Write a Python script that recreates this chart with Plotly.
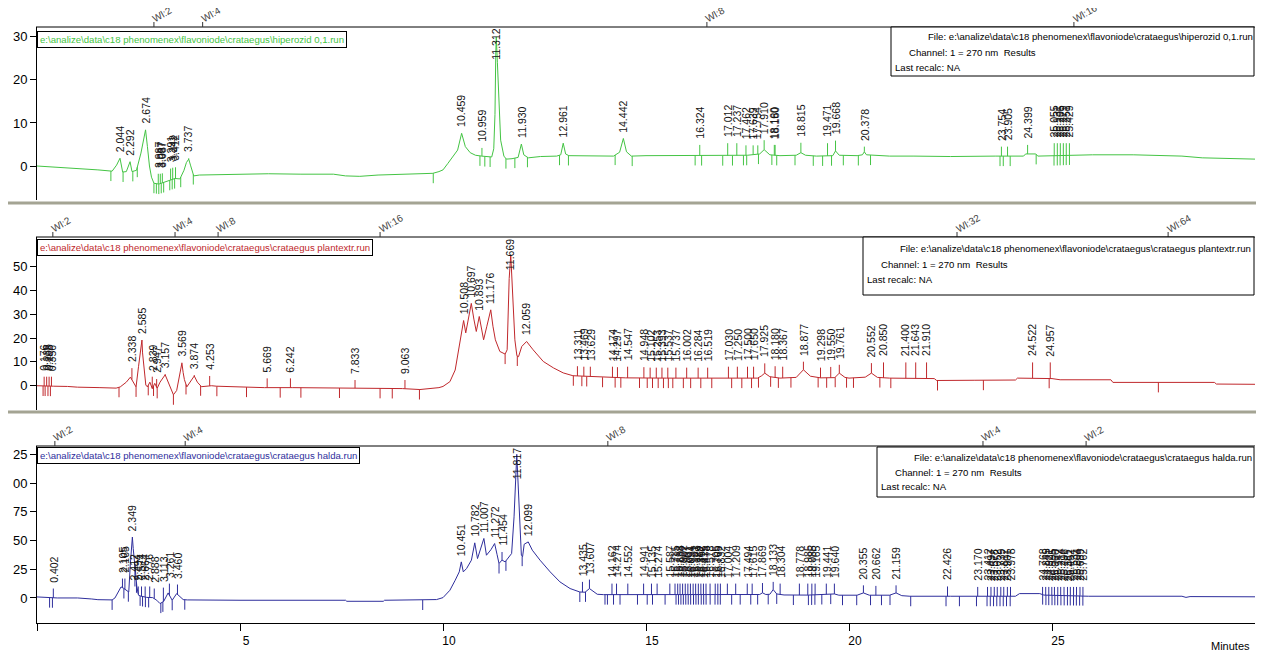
import numpy as np
import plotly.graph_objects as go

# ---------------- data ----------------
x_ticks = [0, 5, 10, 15, 20, 25]
x_tick_labels = ["", "5", "10", "15", "20", "25"]
x_title = "Minutes"
channel_text = "Channel: 1 = 270 nm  Results"
recalc_text = "Last recalc: NA"

# --- run 1 : hiperozid 0,1 (green) ---
hiperozid_path = r"e:\analize\data\c18 phenomenex\flavoniode\crataegus\hiperozid 0,1.run"
hiperozid_signal = [
    (0.0, 0.0), (0.8, -0.4), (1.5, -0.9), (1.85, -1.2), (1.96, 0.2), (2.044, 1.8), (2.11, -1.4),
    (2.2, -1.3), (2.292, 1.0), (2.34, -1.3), (2.45, -1.0), (2.56, 3.0), (2.674, 8.4), (2.72, 4.5),
    (2.77, 0.0), (2.82, -2.6), (2.88, -4.0), (3.0, -4.2), (3.1, -3.9), (3.2, -3.6), (3.3, -3.2),
    (3.4, -2.9), (3.52, -3.0), (3.62, -1.0), (3.68, 0.8), (3.737, 1.6), (3.78, 0.2), (3.86, -2.3),
    (4.0, -2.1), (5.0, -2.0), (5.7, -1.8), (6.5, -1.9), (7.3, -1.9), (7.6, -2.3), (7.95, -2.4),
    (8.4, -2.1), (8.8, -2.0), (9.4, -1.9), (9.75, -1.7), (9.9, -1.3), (10.0, -0.9), (10.12, 0.6),
    (10.25, 2.2), (10.36, 3.7), (10.459, 7.6), (10.55, 4.5), (10.67, 3.1), (10.8, 2.5), (10.95, 2.3),
    (11.1, 2.1), (11.2, 2.1), (11.25, 4.0), (11.28, 12.0), (11.3, 26.0), (11.312, 30.0), (11.34, 24.0),
    (11.37, 15.3), (11.42, 6.0), (11.5, 2.3), (11.56, 1.6), (11.7, 1.7), (11.85, 2.0), (11.93, 5.1),
    (11.99, 2.6), (12.1, 1.9), (12.4, 2.2), (12.8, 2.3), (12.9, 2.6), (12.961, 5.3), (13.02, 2.8),
    (13.1, 2.4), (13.6, 2.4), (14.2, 2.3), (14.35, 3.2), (14.442, 6.4), (14.52, 3.3), (14.64, 2.3),
    (15.0, 2.4), (15.5, 2.4), (16.0, 2.5), (16.5, 2.4), (17.0, 2.4), (17.5, 2.5), (17.8, 2.8),
    (17.91, 3.8), (18.05, 2.6), (18.3, 2.4), (18.7, 2.5), (18.815, 3.1), (18.93, 2.5), (19.2, 2.3),
    (19.6, 2.4), (19.668, 3.5), (19.76, 2.5), (20.2, 2.4), (20.33, 2.6), (20.378, 3.3), (20.43, 2.6),
    (20.6, 2.5), (21.0, 2.3), (21.6, 2.3), (22.5, 2.2), (23.6, 2.3), (24.3, 2.3), (24.35, 2.8),
    (24.6, 2.8), (24.65, 2.3), (25.0, 2.4), (25.5, 2.6), (26.0, 2.6), (27.0, 2.6), (28.0, 2.4),
    (28.2, 2.3), (28.7, 1.9), (29.4, 1.8), (30.0, 1.6),
]
hiperozid_peaks = [  # (retention time, top of peak mark)
    (2.044, 1.8), (2.292, 1.0), (2.674, 8.4), (2.987, -1.8), (3.037, -1.8), (3.087, -1.7),
    (3.291, -0.6), (3.342, -0.4), (3.412, -0.3), (3.737, 1.8), (10.459, 7.6), (10.959, 4.2),
    (11.312, 30.0), (11.930, 5.1), (12.961, 5.3), (14.442, 6.4), (16.324, 4.9), (17.012, 5.3),
    (17.237, 5.3), (17.462, 4.8), (17.639, 4.8), (17.754, 4.8), (17.910, 6.0), (18.160, 4.9),
    (18.180, 4.9), (18.815, 5.4), (19.471, 5.3), (19.668, 5.9), (20.378, 4.5), (23.754, 4.5),
    (23.905, 4.5), (24.399, 4.9), (25.055, 5.3), (25.131, 5.3), (25.205, 5.3), (25.279, 5.3),
    (25.351, 5.3), (25.429, 5.3),
]
hiperozid_marks = [
    1.82, 2.12, 2.36, 2.47, 2.88, 2.94, 3.0, 3.06, 3.12, 3.27, 3.33, 3.39, 3.54, 3.85, 9.76,
    10.91, 11.03, 11.16, 11.55, 11.77, 12.08, 12.87, 13.09, 14.24, 14.66, 16.21, 16.37, 16.89,
    17.13, 17.4, 17.48, 17.77, 18.1, 18.22, 18.67, 19.12, 19.35, 19.57, 19.86, 20.23, 20.53,
    23.72, 23.8, 23.97, 24.61, 25.05, 25.13, 25.2, 25.28, 25.35, 25.43,
]
hiperozid_events = [2.88, 4.08, 16.5, 25.54]
hiperozid_event_labels = ["Wl:2", "Wl:4", "Wl:8", "Wl:16"]
hiperozid_y_ticks = [0, 10, 20, 30]
hiperozid_y_labels = ["0", "10", "20", "30"]

# --- run 2 : crataegus plantextr (red) ---
plantextr_path = r"e:\analize\data\c18 phenomenex\flavoniode\crataegus\crataegus plantextr.run"
plantextr_signal = [
    (0.0, 0.0), (0.1, -0.1), (0.4, -0.2), (0.75, -0.3), (1.0, -0.6), (1.55, -0.8), (1.95, -1.0),
    (2.05, -0.5), (2.2, 1.5), (2.3, 3.6), (2.38, 1.5), (2.44, -0.5), (2.5, 8.0), (2.585, 19.2),
    (2.6, 13.8), (2.62, 9.6), (2.65, 3.9), (2.68, 0.3), (2.72, -0.5), (2.78, 1.5), (2.84, -1.2),
    (2.9, 1.0), (2.96, -1.1), (3.03, 1.5), (3.157, 4.6), (3.25, 1.0), (3.36, -3.8), (3.44, -2.0),
    (3.5, 3.0), (3.569, 9.5), (3.6, 5.5), (3.63, 2.6), (3.69, -0.5), (3.77, 1.5), (3.874, 4.1),
    (3.95, 1.5), (4.05, -0.4), (4.3, 0.0), (4.42, -0.2), (5.0, -0.5), (5.6, -0.8), (6.3, -0.8),
    (7.0, -0.9), (7.75, -1.0), (8.5, -1.1), (9.0, -1.2), (9.43, -1.6), (9.76, -1.2), (9.9, -0.8),
    (10.0, -0.3), (10.17, 1.7), (10.3, 6.6), (10.4, 16.4), (10.508, 27.4), (10.56, 22.2),
    (10.62, 28.0), (10.697, 34.6), (10.76, 28.0), (10.82, 22.8), (10.893, 29.1), (11.0, 19.3),
    (11.08, 25.0), (11.176, 31.9), (11.23, 25.0), (11.29, 19.3), (11.4, 14.4), (11.53, 13.3),
    (11.58, 15.1), (11.63, 45.0), (11.669, 55.0), (11.72, 36.0), (11.77, 19.3), (11.82, 12.6),
    (11.86, 12.2), (11.94, 16.5), (12.059, 18.6), (12.22, 15.1), (12.47, 10.2), (12.72, 7.5),
    (12.96, 5.4), (13.2, 4.2), (13.87, 3.6), (14.5, 3.3), (15.5, 3.2), (16.5, 3.2), (17.15, 3.2),
    (17.75, 3.2), (17.85, 4.2), (17.925, 5.3), (18.05, 3.8), (18.3, 3.2), (18.7, 3.5), (18.877, 6.7),
    (19.05, 4.0), (19.3, 3.3), (19.65, 3.4), (19.761, 5.3), (19.9, 3.5), (20.0, 3.2), (20.4, 3.6),
    (20.552, 5.3), (20.7, 3.5), (21.0, 3.2), (22.1, 3.0), (22.16, 2.2), (23.1, 2.3), (24.1, 2.4),
    (24.15, 3.2), (24.9, 3.2), (25.0, 3.0), (25.2, 2.5), (26.45, 2.5), (26.5, 1.4), (29.0, 1.4),
    (29.05, 0.7), (30.0, 0.6),
]
plantextr_peaks = [
    (0.176, 3.8), (0.238, 3.8), (0.298, 3.8), (0.356, 3.8), (2.338, 7.4), (2.585, 19.2),
    (2.839, 3.8), (2.947, 2.8), (3.157, 4.9), (3.569, 9.7), (3.874, 4.5), (4.253, 4.1),
    (5.669, 3.1), (6.242, 3.1), (7.833, 2.4), (9.063, 2.4), (10.508, 27.4), (10.697, 34.6),
    (10.893, 29.1), (11.176, 31.9), (11.669, 55.0), (12.059, 18.6), (13.311, 8.2), (13.469, 8.0),
    (13.629, 8.0), (14.174, 8.0), (14.297, 7.8), (14.547, 8.0), (14.948, 7.8), (15.102, 7.6),
    (15.253, 7.6), (15.393, 7.6), (15.537, 7.6), (15.737, 7.6), (16.002, 7.6), (16.284, 7.6),
    (16.519, 7.6), (17.030, 8.0), (17.250, 8.0), (17.500, 8.0), (17.650, 8.0), (17.925, 9.4),
    (18.180, 8.2), (18.367, 8.0), (18.877, 10.1), (19.298, 7.6), (19.550, 7.9), (19.761, 8.8),
    (20.552, 9.5), (20.850, 9.8), (21.400, 9.8), (21.643, 9.8), (21.910, 9.8), (24.522, 9.8),
    (24.957, 9.8),
]
plantextr_marks = [
    0.15, 0.2, 0.27, 0.33, 2.02, 2.44, 2.74, 2.87, 2.96, 3.36, 3.67, 4.03, 4.43, 5.16, 5.99, 6.5,
    7.45, 8.45, 8.75, 9.42, 11.53, 11.83, 13.21, 13.42, 13.54, 13.93, 14.24, 14.38, 14.84, 15.03,
    15.16, 15.3, 15.43, 15.55, 15.66, 15.92, 16.1, 16.35, 16.62, 17.11, 17.36, 17.6, 17.77, 18.07,
    18.26, 18.57, 19.24, 19.45, 19.66, 19.94, 20.11, 20.76, 21.03, 22.18, 23.31, 24.93, 27.62,
]
plantextr_events = [0.39, 3.40, 4.46, 8.45, 22.66, 27.86]
plantextr_event_labels = ["Wl:2", "Wl:4", "Wl:8", "Wl:16", "Wl:32", "Wl:64"]
plantextr_y_ticks = [0, 10, 20, 30, 40, 50]
plantextr_y_labels = ["0", "10", "20", "30", "40", "50"]

# --- run 3 : crataegus halda (blue) ---
halda_path = r"e:\analize\data\c18 phenomenex\flavoniode\crataegus\crataegus halda.run"
halda_signal = [
    (0.0, 0.9), (0.3, 0.3), (0.5, 0.0), (1.0, 0.0), (1.3, -0.3), (1.35, -0.9), (1.5, -1.5),
    (1.85, -1.7), (1.92, 0.0), (2.0, 5.0), (2.07, 9.6), (2.13, 8.5), (2.19, 7.0), (2.26, 5.2),
    (2.3, 30.0), (2.349, 53.0), (2.37, 43.0), (2.39, 34.6), (2.4, 38.0), (2.42, 24.0), (2.46, 9.6),
    (2.5, 2.4), (2.55, 1.7), (2.7, 0.5), (2.85, 0.3), (2.95, -2.0), (3.03, -4.9), (3.12, -3.0),
    (3.23, 4.4), (3.33, -2.0), (3.44, 3.8), (3.6, -1.4), (3.7, -1.7), (5.0, -2.0), (7.6, -2.0),
    (7.63, -2.9), (8.53, -2.9), (8.56, -2.0), (9.3, -2.0), (9.84, -1.4), (10.0, 0.3), (10.17, 6.7),
    (10.3, 15.4), (10.4, 22.7), (10.451, 31.4), (10.5, 22.7), (10.58, 25.6), (10.7, 32.9),
    (10.782, 48.0), (10.85, 34.3), (11.007, 51.8), (11.07, 37.2), (11.18, 42.0), (11.272, 47.4),
    (11.33, 38.0), (11.38, 30.0), (11.454, 33.0), (11.53, 31.4), (11.69, 38.7), (11.75, 70.6),
    (11.817, 125.0), (11.86, 85.0), (11.9, 50.0), (11.93, 37.2), (11.96, 36.0), (12.0, 46.8),
    (12.099, 48.8), (12.2, 41.6), (12.39, 32.9), (12.64, 22.7), (12.88, 14.0), (13.13, 8.2),
    (13.37, 5.2), (13.5, 5.0), (13.607, 8.2), (13.8, 3.2), (13.95, 2.9), (15.0, 2.9), (17.0, 2.9),
    (17.8, 3.0), (17.869, 4.5), (17.95, 3.0), (18.05, 3.2), (18.133, 7.3), (18.22, 3.5),
    (18.4, 2.6), (19.0, 2.5), (19.64, 3.5), (19.75, 2.4), (20.2, 2.4), (20.355, 4.4), (20.5, 2.4),
    (21.0, 2.4), (21.159, 4.4), (21.3, 2.0), (21.5, 1.5), (22.5, 1.5), (23.2, 1.5), (24.1, 1.5),
    (24.2, 3.8), (24.7, 3.8), (24.8, 2.5), (25.8, 2.0), (25.9, 1.5), (28.2, 1.5), (28.3, 0.5),
    (28.4, 1.2), (30.0, 1.0),
]
halda_peaks = [
    (0.402, 8.2), (2.105, 16.9), (2.165, 16.9), (2.349, 53.0), (2.412, 10.0), (2.494, 10.0),
    (2.574, 10.0), (2.664, 10.0), (2.776, 10.0), (2.888, 8.2), (3.113, 9.0), (3.261, 12.5),
    (3.460, 11.7), (10.451, 31.4), (10.782, 48.0), (11.007, 51.8), (11.272, 47.4), (11.454, 40.0),
    (11.817, 125.0), (12.099, 48.8), (13.435, 14.0), (13.607, 16.0), (14.162, 12.5), (14.274, 12.5),
    (14.552, 12.5), (14.941, 12.5), (15.135, 12.5), (15.274, 12.5), (15.587, 12.5), (15.715, 12.5),
    (15.781, 12.5), (15.838, 12.5), (15.902, 12.5), (15.967, 12.5), (16.031, 12.5), (16.094, 12.5),
    (16.161, 12.5), (16.223, 12.5), (16.289, 12.5), (16.352, 12.5), (16.415, 12.5), (16.478, 12.5),
    (16.578, 12.5), (16.705, 12.5), (16.769, 12.5), (16.832, 12.5), (17.004, 12.5), (17.209, 12.5),
    (17.494, 12.5), (17.615, 12.5), (17.869, 13.0), (18.133, 14.0), (18.304, 12.5), (18.778, 12.5),
    (18.985, 12.5), (19.085, 12.5), (19.165, 12.5), (19.441, 12.5), (19.640, 12.5), (20.355, 11.0),
    (20.662, 10.5), (21.159, 11.0), (22.426, 10.0), (23.170, 9.6), (23.412, 9.6), (23.497, 9.6),
    (23.578, 9.6), (23.652, 9.6), (23.739, 9.6), (23.812, 9.6), (23.901, 9.6), (23.978, 9.6),
    (24.768, 9.6), (24.845, 9.6), (24.921, 9.6), (24.995, 9.6), (25.060, 9.6), (25.142, 9.6),
    (25.214, 9.6), (25.296, 9.6), (25.381, 9.6), (25.452, 9.6), (25.531, 9.6), (25.604, 9.6),
    (25.689, 9.6), (25.762, 9.6),
]
halda_marks = [
    0.31, 0.38, 1.85, 2.14, 2.25, 2.45, 2.54, 2.6, 2.67, 2.75, 3.05, 3.1, 3.33, 3.64, 9.5, 11.38,
    11.55, 11.95, 13.37, 13.51, 13.99, 14.05, 14.2, 14.36, 14.79, 15.03, 15.16, 15.47, 15.74, 15.8,
    15.86, 15.92, 15.98, 16.04, 16.1, 16.17, 16.23, 16.29, 16.36, 16.42, 16.48, 16.58, 16.7, 16.77,
    16.83, 17.11, 17.32, 17.58, 17.75, 18.01, 18.22, 18.63, 19.0, 19.08, 19.16, 19.33, 19.55,
    19.84, 20.19, 20.53, 20.8, 21.01, 21.52, 22.39, 22.72, 23.14, 23.4, 23.48, 23.56, 23.64,
    23.72, 23.8, 23.88, 23.97, 24.77, 24.85, 24.92, 25.0, 25.07, 25.14, 25.22, 25.3, 25.38, 25.45,
    25.53, 25.6, 25.68, 25.76,
]
halda_events = [0.44, 3.65, 14.06, 23.3, 25.84]
halda_event_labels = ["Wl:2", "Wl:4", "Wl:8", "Wl:4", "Wl:2"]
halda_y_ticks = [0, 25, 50, 75, 100, 125]
halda_y_labels = ["0", "25", "50", "75", "00", "25"]   # leading "1" is cut off in the original

# ---------------- layout geometry ----------------
# The page body keeps its default 8 px margin, so the figure is drawn 8 px in
# from the window's top-left corner; all positions below are window pixels.
OFF = 8
W, H = 1264 - OFF, 660 - 2 * OFF
ML, MR, MT, MB = 37 - OFF, 9, 0, H - (623 - OFF)
PW, PH = W - ML - MR, H - MT - MB
FONT = "Arial, 'Liberation Sans', sans-serif"


def xp(px):
    return (px - OFF - ML) / PW


def yp(px):
    return (PH - (px - OFF - MT)) / PH


panels = [
    dict(path=hiperozid_path, color="#44c444", signal=hiperozid_signal, peaks=hiperozid_peaks,
         marks=hiperozid_marks, events=hiperozid_events, ev_labels=hiperozid_event_labels,
         yt=hiperozid_y_ticks, yl=hiperozid_y_labels, top=27, bottom=200, yr=[-7.9, 32.3],
         lbox_top=31, rbox=(891, 27, 76), rlines=(36, 52.5, 68)),
    dict(path=plantextr_path, color="#c0282c", signal=plantextr_signal, peaks=plantextr_peaks,
         marks=plantextr_marks, events=plantextr_events, ev_labels=plantextr_event_labels,
         yt=plantextr_y_ticks, yl=plantextr_y_labels, top=237, bottom=410, yr=[-10.2, 62.5],
         lbox_top=239, rbox=(863, 237, 295), rlines=(248, 264.5, 279.5)),
    dict(path=halda_path, color="#2e2e9c", signal=halda_signal, peaks=halda_peaks,
         marks=halda_marks, events=halda_events, ev_labels=halda_event_labels,
         yt=halda_y_ticks, yl=halda_y_labels, top=446, bottom=623, yr=[-21.8, 132.3],
         lbox_top=447, rbox=(877, 447, 497), rlines=(457, 472, 487)),
]

fig = go.Figure()
annotations = []
shapes = []
layout_axes = {}


def label_px(s, fs):
    return sum(0.556 if c.isdigit() else 0.278 for c in s) * fs


for i, p in enumerate(panels, start=1):
    yname = "y" if i == 1 else f"y{i}"
    yref = yname
    r0, r1 = p["yr"]
    ppu = (p["bottom"] - p["top"]) / (r1 - r0)

    def vpx(v, p=p, r0=r0, ppu=ppu):
        return p["bottom"] - (v - r0) * ppu

    st = np.array([a for a, b in p["signal"]])
    sy = np.array([b for a, b in p["signal"]])
    fig.add_trace(go.Scatter(x=st, y=sy, mode="lines", xaxis="x", yaxis=yname,
                             line=dict(color=p["color"], width=1), hoverinfo="skip"))

    # peak marks (from trace up to top of mark)
    px_, py_ = [], []
    for rt, h in p["peaks"]:
        base = float(np.interp(rt, st, sy))
        px_ += [rt, rt, None]
        py_ += [base, h, None]
    # baseline event marks (hanging below trace)
    for t in p["marks"]:
        base = float(np.interp(t, st, sy))
        px_ += [t, t, None]
        py_ += [base, base - 10 / ppu, None]
    fig.add_trace(go.Scatter(x=px_, y=py_, mode="lines", xaxis="x", yaxis=yname,
                             line=dict(color=p["color"], width=1), hoverinfo="skip"))

    # peak labels
    fs = 10.5
    for rt, h in p["peaks"]:
        txt = f"{rt:.3f}"
        bottom_px = vpx(h) - 6
        if bottom_px - label_px(txt, fs) - 3 < p["top"] + 1:
            annotations.append(dict(x=rt, y=r1, xref="x", yref=yref, text=txt, textangle=-90,
                                    showarrow=False, xanchor="center", yanchor="top", yshift=-1,
                                    font=dict(family=FONT, size=fs, color="#111111"),
                                    borderpad=0))
        else:
            annotations.append(dict(x=rt, y=h, xref="x", yref=yref, text=txt, textangle=-90,
                                    showarrow=False, xanchor="center", yanchor="bottom", yshift=5,
                                    font=dict(family=FONT, size=fs, color="#111111"),
                                    borderpad=0))

    # y axis
    layout_axes["yaxis" if i == 1 else f"yaxis{i}"] = dict(
        domain=[yp(p["bottom"]), yp(p["top"])], range=p["yr"], anchor="x",
        showgrid=False, zeroline=False, showline=True, linecolor="black", linewidth=1,
        ticks="outside", ticklen=6, tickcolor="black", tickvals=p["yt"], ticktext=p["yl"],
        tickfont=dict(family=FONT, size=13, color="black"), fixedrange=True)

    # panel top line
    shapes.append(dict(type="line", xref="paper", yref="paper", x0=xp(36), x1=xp(1255),
                       y0=yp(p["top"]), y1=yp(p["top"]), line=dict(color="black", width=1),
                       layer="above"))

    # wavelength events
    for t, lab in zip(p["events"], p["ev_labels"]):
        shapes.append(dict(type="line", xref="x", yref="paper", x0=t, x1=t,
                           y0=yp(p["top"]), y1=yp(p["top"] - 5),
                           line=dict(color="#333333", width=1), layer="above"))
        annotations.append(dict(x=t, y=yp(p["top"]), xref="x", yref="paper", text=lab,
                                textangle=-30, showarrow=False, xanchor="left",
                                yanchor="bottom", xshift=-6, yshift=0,
                                font=dict(family=FONT, size=10, color="#444444")))

    # file box (left)
    annotations.append(dict(x=xp(37), y=yp(p["lbox_top"]), xref="paper", yref="paper",
                            text=p["path"], showarrow=False, xanchor="left", yanchor="top",
                            bordercolor="black", borderwidth=1, borderpad=2, bgcolor="white",
                            font=dict(family=FONT, size=9.6, color=p["color"])))

    # results box (right)
    bl, bt, bb = p["rbox"]
    shapes.append(dict(type="rect", xref="paper", yref="paper", x0=xp(bl), x1=xp(1254),
                       y0=yp(bb), y1=yp(bt), line=dict(color="black", width=1),
                       fillcolor="white", layer="above"))
    for off, txt, ly in zip((35, 16, 2), ("File: " + p["path"], channel_text, recalc_text),
                            p["rlines"]):
        annotations.append(dict(x=xp(bl + off), y=yp(ly), xref="paper", yref="paper", text=txt,
                                showarrow=False, xanchor="left", yanchor="middle",
                                font=dict(family=FONT, size=9.6, color="black")))

# gray separators between the panels
for ypx in (203, 412):
    shapes.append(dict(type="line", xref="paper", yref="paper", x0=xp(7), x1=xp(1264),
                       y0=yp(ypx), y1=yp(ypx), line=dict(color="#a4a493", width=3),
                       layer="above"))

annotations.append(dict(x=xp(1252), y=yp(646), xref="paper", yref="paper", text=x_title,
                        showarrow=False, xanchor="right", yanchor="middle",
                        font=dict(family=FONT, size=11, color="black")))

fig.update_layout(
    width=W, height=H, autosize=False,
    margin=dict(l=ML, r=MR, t=MT, b=MB, pad=0),
    paper_bgcolor="white", plot_bgcolor="white",
    showlegend=False, hovermode=False,
    xaxis=dict(domain=[0, 1], range=[0, 30.0], anchor="y3", showgrid=False, zeroline=False,
               showline=True, linecolor="black", linewidth=1, ticks="outside", ticklen=7,
               tickcolor="black", tickvals=x_ticks, ticktext=x_tick_labels,
               tickfont=dict(family=FONT, size=12, color="black"), ticklabelshift=6,
               fixedrange=True),
    annotations=annotations,
    shapes=shapes,
    **layout_axes,
)

fig.write_html("out.html")
